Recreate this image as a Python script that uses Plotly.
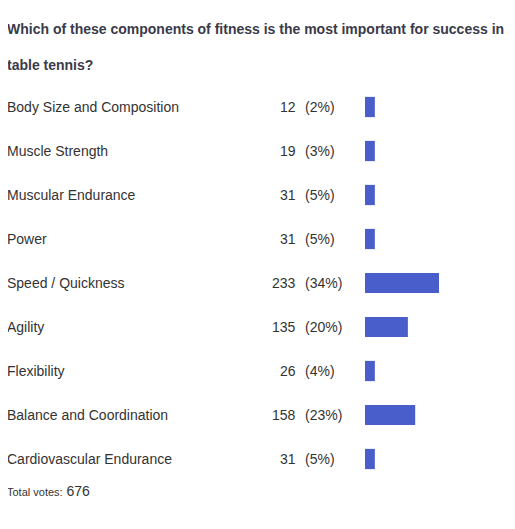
import plotly.graph_objects as go

categories = ["Body Size and Composition", "Muscle Strength", "Muscular Endurance",
              "Power", "Speed / Quickness", "Agility", "Flexibility",
              "Balance and Coordination", "Cardiovascular Endurance"]
votes = [12, 19, 31, 31, 233, 135, 26, 158, 31]
percents = ["2%", "3%", "5%", "5%", "34%", "20%", "4%", "23%", "5%"]
total_votes = 676
question = "Which of these components of fitness is the most important for success in<br><br>table tennis?"

W, H = 515, 529
OFF = 9  # page body margin shifts the figure
font = "Liberation Sans, Arial, sans-serif"
text_col = "#333333"


def px(x):
    return (x - OFF) / W


def py(y):
    return 1 - (y - OFF) / H


# poll widget draws tiny bars with a minimum width
bar_len = [max(v, 31) for v in votes]

fig = go.Figure(go.Bar(
    x=bar_len, y=categories, orientation="h",
    marker=dict(color="#4a5ecb", line=dict(width=0)), width=0.46,
    hoverinfo="skip",
))

for cat, v, p in zip(categories, votes, percents):
    fig.add_annotation(x=px(6), y=cat, xref="paper", yref="y", text=cat,
                       showarrow=False, xanchor="left",
                       font=dict(family=font, size=14, color=text_col))
    fig.add_annotation(x=px(299), y=cat, xref="paper", yref="y", text=str(v),
                       showarrow=False, xanchor="right",
                       font=dict(family=font, size=14, color=text_col))
    fig.add_annotation(x=px(304), y=cat, xref="paper", yref="y", text=f"({p})",
                       showarrow=False, xanchor="left",
                       font=dict(family=font, size=14, color=text_col))

fig.add_annotation(x=px(6), y=py(20), xref="paper", yref="paper",
                   text=f"<b>{question}</b>", showarrow=False,
                   xanchor="left", yanchor="top", align="left",
                   font=dict(family=font, size=14, color="#3a3a4a"))
fig.add_annotation(x=px(6), y=py(502), xref="paper", yref="paper",
                   text=f"<span style='font-size:11px'>Total votes:</span> {total_votes}",
                   showarrow=False, xanchor="left",
                   font=dict(family=font, size=14, color=text_col))

fig.update_layout(
    width=W, height=H, margin=dict(l=0, r=0, t=0, b=0),
    paper_bgcolor="white", plot_bgcolor="white", showlegend=False,
    xaxis=dict(domain=[px(366), px(440)], range=[0, 233], visible=False, fixedrange=True),
    yaxis=dict(domain=[py(482), py(86)], range=[8.5, -0.5],
               visible=False, fixedrange=True),
)

fig.write_html("out.html")
